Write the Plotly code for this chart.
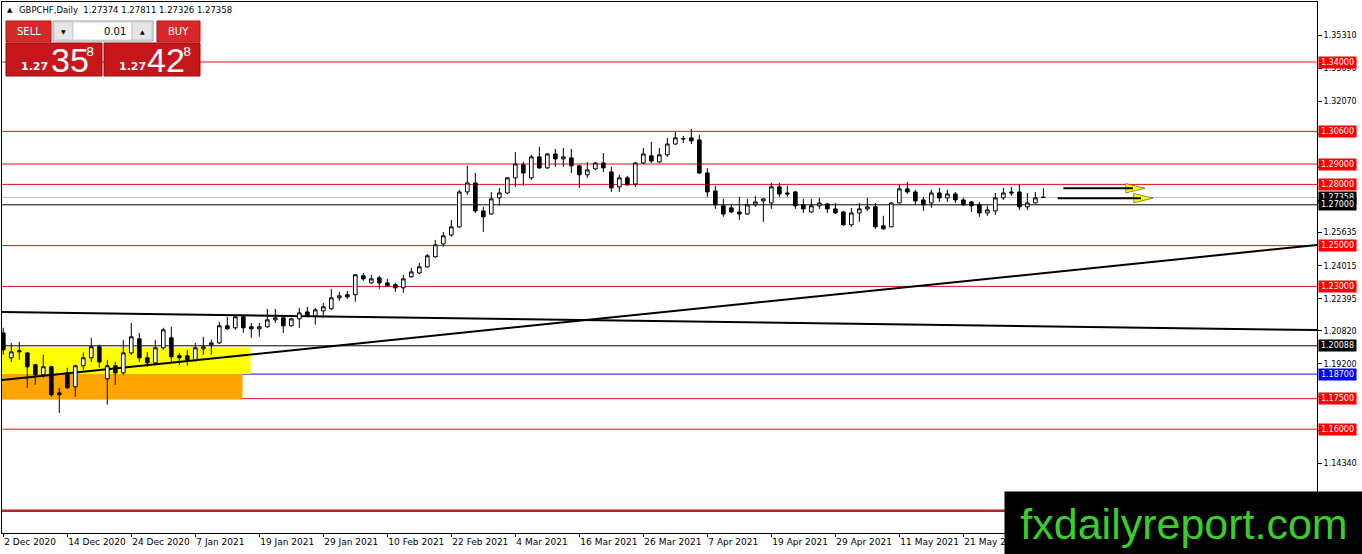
"""GBPCHF daily candles with support / resistance levels, MT4 style."""

import plotly.graph_objects as go

# ------------------------------------------------------------------ #
# Data (bar 0 = 2 Dec 2020, one bar per day)       #
# ------------------------------------------------------------------ #
OPEN = [
    1.2072, 1.1950, 1.1979, 1.1974, 1.1916, 1.1867, 1.1906, 1.1778, 1.1876, 1.1808,
    1.1911, 1.1950, 1.2004, 1.1847, 1.1911, 1.1876, 1.1974, 1.2043, 1.1950, 1.1925,
    1.1999, 1.2048, 1.1960, 1.1960, 1.1940, 1.1994, 1.2014, 1.2023, 1.2107, 1.2097,
    1.2151, 1.2102, 1.2092, 1.2102, 1.2136, 1.2146, 1.2107, 1.2141, 1.2175, 1.2156,
    1.2180, 1.2190, 1.2244, 1.2259, 1.2259, 1.2352, 1.2317, 1.2342, 1.2317, 1.2308,
    1.2293, 1.2347, 1.2366, 1.2396, 1.2445, 1.2508, 1.2552, 1.2592, 1.2763, 1.2807,
    1.2670, 1.2655, 1.2734, 1.2758, 1.2832, 1.2896, 1.2832, 1.2935, 1.2881, 1.2949,
    1.2925, 1.2930, 1.2891, 1.2847, 1.2876, 1.2905, 1.2861, 1.2788, 1.2832, 1.2802,
    1.2905, 1.2940, 1.2910, 1.2945, 1.2998, 1.3023, 1.3028, 1.3018, 1.2856, 1.2768,
    1.2695, 1.2685, 1.2665, 1.2655, 1.2700, 1.2719, 1.2709, 1.2788, 1.2758, 1.2763,
    1.2700, 1.2665, 1.2695, 1.2704, 1.2680, 1.2665, 1.2602, 1.2660, 1.2680, 1.2690,
    1.2597, 1.2592, 1.2709, 1.2778, 1.2763, 1.2724, 1.2709, 1.2758, 1.2734, 1.2753,
    1.2724, 1.2714, 1.2700, 1.2660, 1.2670, 1.2734, 1.2763, 1.2763, 1.2690, 1.2709,
    1.27374,
]
HIGH = [
    1.2097, 1.2023, 1.2028, 1.1976, 1.1920, 1.1965, 1.1911, 1.1803, 1.1901, 1.1916,
    1.1976, 1.2048, 1.2014, 1.1940, 1.1930, 1.2038, 1.2121, 1.2072, 1.1979, 1.2038,
    1.2097, 1.2102, 1.1974, 1.1989, 1.2023, 1.2053, 1.2038, 1.2126, 1.2151, 1.2161,
    1.2161, 1.2121, 1.2121, 1.2190, 1.2190, 1.2151, 1.2146, 1.2195, 1.2200, 1.2195,
    1.2219, 1.2288, 1.2273, 1.2278, 1.2359, 1.2366, 1.2357, 1.2352, 1.2337, 1.2317,
    1.2357, 1.2391, 1.2415, 1.2459, 1.2528, 1.2567, 1.2626, 1.2773, 1.2891, 1.2856,
    1.2690, 1.2763, 1.2783, 1.2837, 1.2959, 1.2910, 1.2945, 1.2984, 1.2954, 1.2974,
    1.2979, 1.2974, 1.2896, 1.2910, 1.2910, 1.2954, 1.2886, 1.2847, 1.2842, 1.2910,
    1.2979, 1.3008, 1.2979, 1.3028, 1.3057, 1.3038, 1.3072, 1.3043, 1.2881, 1.2793,
    1.2729, 1.2700, 1.2739, 1.2729, 1.2744, 1.2731, 1.2807, 1.2807, 1.2793, 1.2768,
    1.2729, 1.2729, 1.2734, 1.2709, 1.2709, 1.2670, 1.2685, 1.2709, 1.2734, 1.2709,
    1.2646, 1.2714, 1.2798, 1.2812, 1.2773, 1.2739, 1.2773, 1.2783, 1.2773, 1.2763,
    1.2734, 1.2719, 1.2714, 1.2695, 1.2758, 1.2783, 1.2788, 1.2798, 1.2758, 1.2763,
    1.27811,
]
LOW = [
    1.1965, 1.1930, 1.1940, 1.1803, 1.1818, 1.1852, 1.1759, 1.1680, 1.1798, 1.1759,
    1.1891, 1.1930, 1.1901, 1.1720, 1.1818, 1.1867, 1.1965, 1.1930, 1.1906, 1.1916,
    1.1989, 1.1930, 1.1916, 1.1911, 1.1930, 1.1965, 1.1965, 1.2018, 1.2087, 1.2087,
    1.2072, 1.2048, 1.2053, 1.2097, 1.2121, 1.2072, 1.2102, 1.2097, 1.2151, 1.2112,
    1.2146, 1.2185, 1.2229, 1.2239, 1.2224, 1.2327, 1.2312, 1.2288, 1.2298, 1.2273,
    1.2268, 1.2342, 1.2361, 1.2391, 1.2440, 1.2494, 1.2543, 1.2587, 1.2749, 1.2660,
    1.2567, 1.2651, 1.2695, 1.2753, 1.2788, 1.2793, 1.2822, 1.2876, 1.2876, 1.2886,
    1.2886, 1.2856, 1.2783, 1.2832, 1.2871, 1.2861, 1.2763, 1.2763, 1.2793, 1.2788,
    1.2900, 1.2905, 1.2905, 1.2935, 1.2994, 1.3003, 1.2998, 1.2851, 1.2739, 1.2680,
    1.2641, 1.2660, 1.2626, 1.2651, 1.2690, 1.2616, 1.2680, 1.2739, 1.2739, 1.2680,
    1.2660, 1.2660, 1.2680, 1.2660, 1.2655, 1.2597, 1.2592, 1.2616, 1.2670, 1.2582,
    1.2577, 1.2590, 1.2707, 1.2753, 1.2700, 1.2670, 1.2685, 1.2714, 1.2714, 1.2709,
    1.2695, 1.2665, 1.2641, 1.2646, 1.2651, 1.2724, 1.2744, 1.2675, 1.2675, 1.2707,
    1.27326,
]
CLOSE = [
    1.1989, 1.1979, 1.1984, 1.1906, 1.1867, 1.1906, 1.1769, 1.1769, 1.1803, 1.1911,
    1.1950, 1.2004, 1.1930, 1.1911, 1.1876, 1.1974, 1.2053, 1.1950, 1.1925, 1.1999,
    1.2087, 1.1955, 1.1950, 1.1940, 1.1999, 1.2004, 1.2023, 1.2107, 1.2092, 1.2151,
    1.2097, 1.2092, 1.2102, 1.2136, 1.2146, 1.2107, 1.2141, 1.2170, 1.2156, 1.2185,
    1.2200, 1.2244, 1.2254, 1.2249, 1.2357, 1.2337, 1.2337, 1.2317, 1.2303, 1.2293,
    1.2337, 1.2371, 1.2396, 1.2450, 1.2504, 1.2548, 1.2592, 1.2763, 1.2807, 1.2670,
    1.2641, 1.2729, 1.2758, 1.2832, 1.2900, 1.2856, 1.2935, 1.2881, 1.2949, 1.2925,
    1.2935, 1.2891, 1.2847, 1.2871, 1.2905, 1.2881, 1.2783, 1.2832, 1.2798, 1.2905,
    1.2949, 1.2915, 1.2945, 1.2998, 1.3028, 1.3024, 1.3013, 1.2856, 1.2763, 1.2700,
    1.2655, 1.2665, 1.2655, 1.2700, 1.2714, 1.2729, 1.2788, 1.2753, 1.2753, 1.2695,
    1.2680, 1.2695, 1.2709, 1.2680, 1.2660, 1.2602, 1.2660, 1.2680, 1.2690, 1.2592,
    1.2582, 1.2709, 1.2778, 1.2763, 1.2719, 1.2700, 1.2758, 1.2734, 1.2753, 1.2724,
    1.2700, 1.2695, 1.2660, 1.2675, 1.2734, 1.2758, 1.2758, 1.2690, 1.2709, 1.2734,
    1.27358,
]
BARS = list(range(len(CLOSE)))

DATE_TICK_BARS = [0, 8, 16, 24, 32, 40, 48, 56, 64, 72, 80, 88, 96, 104, 112, 120, 128]
DATE_TICK_LABELS = [
    "2 Dec 2020", "14 Dec 2020", "24 Dec 2020", "7 Jan 2021", "19 Jan 2021",
    "29 Jan 2021", "10 Feb 2021", "22 Feb 2021", "4 Mar 2021", "16 Mar 2021",
    "26 Mar 2021", "7 Apr 2021", "19 Apr 2021", "29 Apr 2021", "11 May 2021",
    "21 May 2021", "2 Jun 2021",
]
PRICE_TICKS = [
    1.35310, 1.33690, 1.32070, 1.30450, 1.28830, 1.27210, 1.25635,
    1.24015, 1.22395, 1.20820, 1.19200, 1.17580, 1.15960, 1.14340,
]

RED_LEVELS = [1.34000, 1.30600, 1.29000, 1.28000, 1.25000, 1.23000, 1.17500, 1.16000]
FLOOR_LEVEL = 1.12000
BLACK_LEVELS = [1.27000, 1.20088]
BLUE_LEVEL = 1.18700
BID = 1.27358

# trend lines: (bar, price) at both ends of the visible window
RISING_LINE = [(-0.16, 1.1841), (164.2, 1.2503)]
FLAT_LINE = [(-0.16, 1.2175), (164.2, 1.2086)]

# zones: bottom, top, last bar covered
YELLOW_ZONE = (1.1870, 1.2000, 30.9)
ORANGE_ZONE = (1.1745, 1.1870, 29.9)

# arrows: start bar, tip bar, price
ARROWS = [(132.5, 142.7, 1.27811), (131.8, 143.7, 1.27326)]

X_RANGE = [-0.16, 164.2]
Y_RANGE = [1.10912, 1.36941]

FONT = "DejaVu Sans"
NARROW = "Liberation Sans Narrow, Arial Narrow, Liberation Sans"
RED = "rgb(222,18,18)"

# plot area in pixels, used only for the trading panel / watermark
L, T, W, H = 2, 2, 1315, 531


def px(x):
    return (x - L) / W


def py(y):
    return (T + H - y) / H


def price_label(price, bg):
    return dict(
        xref="paper", x=1, xanchor="left", xshift=1,
        yref="y", y=price, yanchor="middle",
        text=f"{price:.5f}", showarrow=False,
        font=dict(family=FONT, size=8, color="white"),
        bgcolor=bg, width=37, height=11, borderpad=0, align="center",
    )


def panel_text(text, x, y, size, color="white", anchor="left", family=FONT):
    return dict(
        xref="paper", yref="paper", x=px(x), y=py(y),
        xanchor=anchor, yanchor="middle", text=text, showarrow=False,
        font=dict(family=family, size=size, color=color),
    )


def panel_box(x0, x1, y0, y1, fill, line=None):
    return dict(
        type="rect", xref="paper", yref="paper", layer="above",
        x0=px(x0), x1=px(x1), y0=py(y1), y1=py(y0),
        fillcolor=fill, line=dict(color=line or fill, width=1),
    )


def build_figure():
    fig = go.Figure()

    fig.add_trace(go.Candlestick(
        x=BARS, open=OPEN, high=HIGH, low=LOW, close=CLOSE,
        increasing=dict(fillcolor="white", line=dict(color="black", width=1)),
        decreasing=dict(fillcolor="black", line=dict(color="black", width=1)),
        whiskerwidth=0, hoverinfo="skip", showlegend=False,
    ))

    # arrow heads
    for start, tip, price in ARROWS:
        head, half = 2.4, 0.0023
        fig.add_trace(go.Scatter(
            x=[tip - head, tip, tip - head, tip - head],
            y=[price + half, price, price - half, price + half],
            mode="lines", fill="toself", fillcolor="#ffff00",
            line=dict(color="#404000", width=0.6),
            hoverinfo="skip", showlegend=False,
        ))

    shapes = []
    for bottom, top, end, colour in [(*YELLOW_ZONE, "#ffff00"), (*ORANGE_ZONE, "#ffa500")]:
        shapes.append(dict(
            type="rect", xref="x", yref="y", layer="below",
            x0=X_RANGE[0] - 1, x1=end, y0=bottom, y1=top,
            fillcolor=colour, line=dict(width=0),
        ))

    def hline(price, colour, width=1):
        return dict(
            type="line", xref="paper", yref="y", layer="below",
            x0=0, x1=1, y0=price, y1=price, line=dict(color=colour, width=width),
        )

    for level in RED_LEVELS:
        shapes.append(hline(level, RED))
    shapes.append(hline(FLOOR_LEVEL, "rgb(190,30,36)", 2.5))
    shapes.append(hline(BID, "#c0c0c0"))
    for level in BLACK_LEVELS:
        shapes.append(hline(level, "black"))
    shapes.append(hline(BLUE_LEVEL, "#1010c8"))

    for (x0, y0), (x1, y1) in [RISING_LINE, FLAT_LINE]:
        shapes.append(dict(
            type="line", xref="x", yref="y", layer="below",
            x0=x0, y0=y0, x1=x1, y1=y1, line=dict(color="black", width=2),
        ))

    for start, tip, price in ARROWS:
        shapes.append(dict(
            type="line", xref="x", yref="y", layer="above",
            x0=start, x1=tip - 1.5, y0=price, y1=price,
            line=dict(color="black", width=2),
        ))

    # ------------------------------------------------------------------ #
    # One-click trading panel                                              #
    # ------------------------------------------------------------------ #
    shapes += [
        panel_box(6, 51, 21, 42, "#d8282b", "#b01010"),
        panel_box(53, 153, 21, 41, "#f0f0f0", "#9a9a9a"),
        panel_box(54, 73, 22, 40, "#e6e6e6", "#c8c8c8"),
        panel_box(73, 132, 22, 40, "white", "#d0d0d0"),
        panel_box(132, 152, 22, 40, "#e6e6e6", "#c8c8c8"),
        panel_box(157, 200, 21, 42, "#d8282b", "#b01010"),
        panel_box(6, 102, 43, 76, "#c4161b", "#9a0c0c"),
        panel_box(104, 200, 43, 76, "#c4161b", "#9a0c0c"),
    ]

    annotations = [
        panel_text("▲", 5, 10, 7, "black"),
        panel_text("GBPCHF,Daily  1.27374 1.27811 1.27326 1.27358", 17, 10, 8.5, "black"),
        panel_text("SELL", 28.5, 31, 10, anchor="center"),
        panel_text("▼", 63.5, 31, 6, "black", anchor="center"),
        panel_text("0.01", 128, 31, 10, "black", anchor="right"),
        panel_text("▲", 142, 31, 6, "black", anchor="center"),
        panel_text("BUY", 178.5, 31, 10, anchor="center"),
        panel_text("<b>1.27</b>", 19, 67, 11),
        panel_text("35", 49, 60, 34, family=NARROW),
        panel_text("8", 84, 52, 13),
        panel_text("<b>1.27</b>", 117, 67, 11),
        panel_text("42", 145, 60, 34, family=NARROW),
        panel_text("8", 181, 52, 13),
    ]

    for level in RED_LEVELS:
        annotations.append(price_label(level, "#ff0000"))
    annotations.append(price_label(BID, "black"))
    for level in BLACK_LEVELS:
        annotations.append(price_label(level, "black"))
    annotations.append(price_label(BLUE_LEVEL, "#0000ff"))

    # watermark box
    annotations.append(dict(
        xref="paper", yref="paper", x=px(1004), y=py(491),
        xanchor="left", yanchor="top", width=356, height=61,
        text="fxdailyreport.com", showarrow=False, align="center",
        bgcolor="black", borderpad=1,
        font=dict(family="Liberation Sans", size=43, color="rgb(58,206,40)"),
    ))

    fig.update_layout(
        width=1362, height=554,
        margin=dict(l=L, r=1362 - L - W, t=T, b=554 - T - H),
        paper_bgcolor="white", plot_bgcolor="white",
        boxgap=0.35, showlegend=False,
        shapes=shapes, annotations=annotations,
        font=dict(family=FONT, size=8, color="black"),
    )
    fig.update_xaxes(
        range=X_RANGE, rangeslider_visible=False,
        showgrid=False, zeroline=False, automargin=False,
        showline=True, mirror=True, linecolor="black", linewidth=1,
        ticks="outside", ticklen=3, tickcolor="black",
        tickvals=DATE_TICK_BARS, ticktext=DATE_TICK_LABELS,
        ticklabelposition="outside right", tickangle=0,
        tickfont=dict(family=FONT, size=9, color="black"),
    )
    fig.update_yaxes(
        range=Y_RANGE, side="right",
        showgrid=False, zeroline=False, automargin=False,
        showline=True, mirror=True, linecolor="black", linewidth=1,
        ticks="outside", ticklen=4, tickcolor="black",
        tickvals=PRICE_TICKS, ticktext=[f"{v:.5f}" for v in PRICE_TICKS],
        tickfont=dict(family=FONT, size=8, color="black"),
    )
    return fig


fig = build_figure()
# page body has an 8px default margin; drop it so the chart sits at the origin
fig.write_html(
    "out.html",
    config={"displayModeBar": False},
    post_script="document.body.style.margin = '0px';",
)
